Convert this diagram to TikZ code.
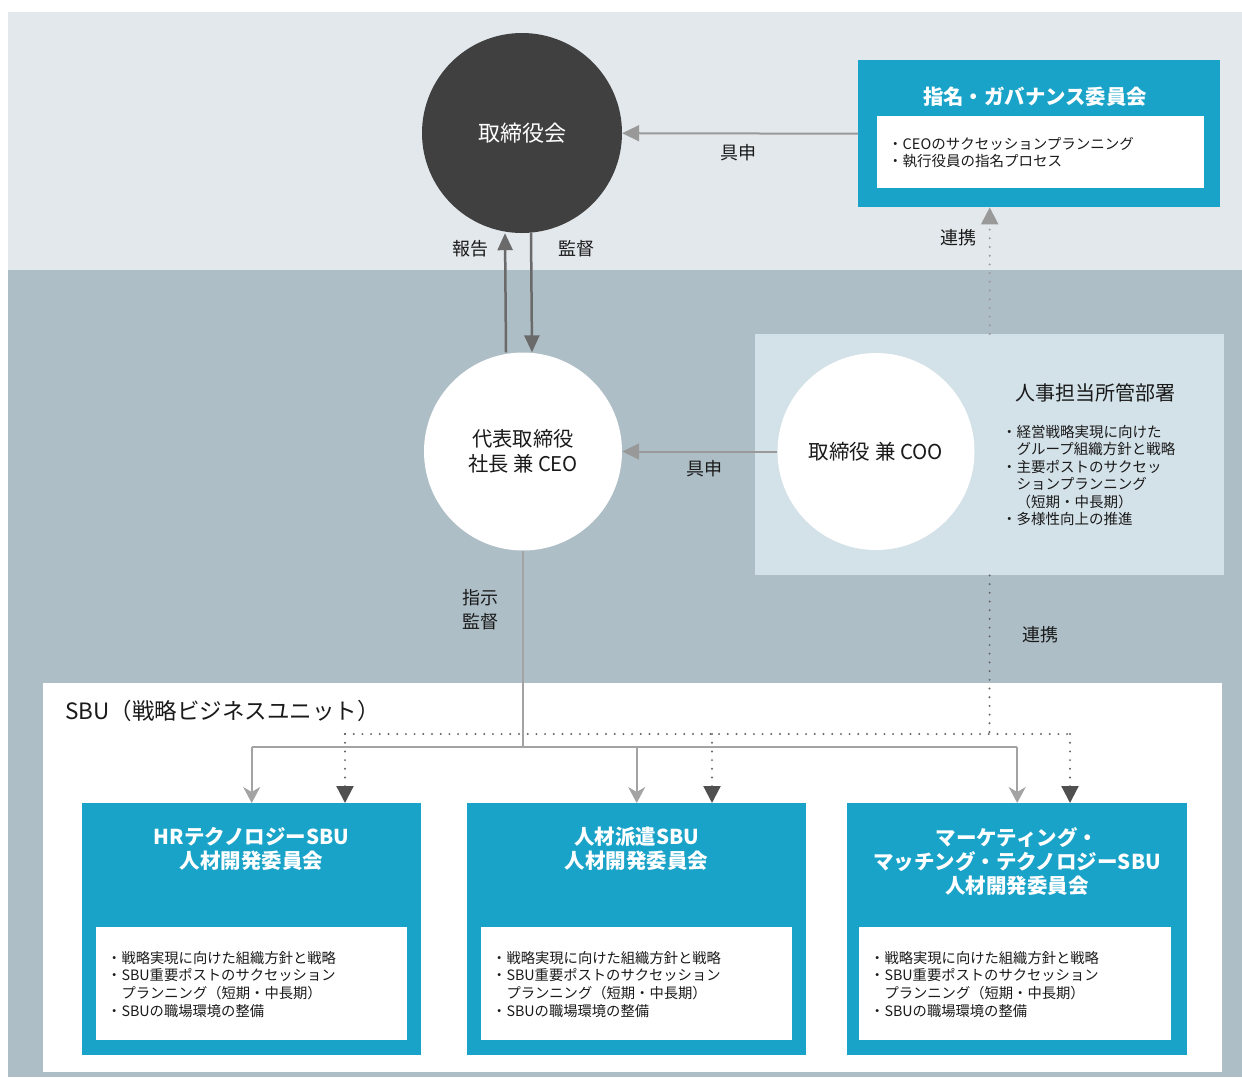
\documentclass[tikz,border=0pt]{standalone}
\usepackage{fontspec}
\setmainfont{Noto Sans CJK JP}
\usetikzlibrary{arrows.meta}
\definecolor{topbg}{HTML}{E2E8EB}
\definecolor{midbg}{HTML}{AEBEC6}
\definecolor{coobg}{HTML}{D3E1E8}
\definecolor{tealbox}{HTML}{1AA3C8}
\definecolor{darkcirc}{HTML}{404040}
\definecolor{arrgray}{HTML}{999999}
\definecolor{darkarrow}{HTML}{6A6A6A}
\definecolor{lightarrow}{HTML}{A3A3A3}
\definecolor{dotgray}{HTML}{666666}
\definecolor{tipdark}{HTML}{505050}
\definecolor{txt}{HTML}{1A1A1A}
\newcommand\fsz[2]{\fontsize{#1}{#2}\selectfont}
\begin{document}
\begin{tikzpicture}[x=1pt,y=-1pt,
  lbl/.style={text=txt, font=\fsz{18}{22}, inner sep=0pt},
  listtxt/.style={text=txt, font=\fsz{14.5}{17.5}, align=left, anchor=north west, inner sep=0pt},
  sbulist/.style={listtxt, font=\fsz{14.3}{17.7}},
  tbox/.style={rectangle, fill=tealbox, inner sep=0pt, anchor=north west},
  wbox/.style={rectangle, fill=white, inner sep=0pt, anchor=north west},
  title/.style={text=white, font=\bfseries\fsz{20.5}{24}, align=center, inner sep=0pt, anchor=north},
  hArrow/.style={draw=arrgray, line width=2pt, -{Triangle[length=17pt,width=16pt]}},
  vArrow/.style={draw=darkarrow, line width=2.5pt, -{Triangle[length=17pt,width=15pt]}},
  dropArrow/.style={draw=lightarrow, line width=2pt, -{Stealth[length=16pt,width=17pt,inset=5pt]}},
  solidLine/.style={draw=lightarrow, line width=2pt},
  dotLine/.style={draw=dotgray, line width=2.2pt, line cap=round, dash pattern=on 0pt off 8.7pt},
  dotDrop/.style={dotLine, -{Triangle[length=17pt,width=17pt,color=tipdark]}},
  dotUp/.style={draw=arrgray, line width=2.2pt, line cap=round, dash pattern=on 0pt off 8.7pt, -{Triangle[length=17pt,width=17pt,color=arrgray]}}
]
\useasboundingbox (0,0) rectangle (1242,1077);
\fill[white] (0,0) rectangle (1242,1077);
\fill[topbg] (8,12) rectangle (1242,270);
\fill[midbg] (8,270) rectangle (1242,1077);
\fill[white] (43,683) rectangle (1222,1072);

% COO panel
\node[rectangle, fill=coobg, inner sep=0pt, anchor=north west, minimum width=469pt, minimum height=241pt] (hr) at (755,334) {};

% circles
\node[circle, fill=darkcirc, minimum size=200pt, inner sep=0pt, text=white, font=\fsz{22}{26}] (board) at (522,133) {取締役会};
\node[circle, fill=white, minimum size=198pt, inner sep=0pt, text=txt, font=\fsz{20.3}{25}, align=center] (ceo) at (523,451.5) {代表取締役\\社長 兼 CEO};
\node[circle, fill=white, minimum size=197pt, inner sep=0pt, text=txt, font=\fsz{20.5}{25}] (coo) at (876,451.5) {取締役 兼 COO};

\node[text=txt, font=\fsz{20}{24}, inner sep=0pt] (hrtitle) at (1095,393) {人事担当所管部署};
\node[listtxt] (hrlist) at (1002,425) {・経営戦略実現に向けた\\\hspace*{1em}グループ組織方針と戦略\\・主要ポストのサクセッ\\\hspace*{1em}ションプランニング\\\hspace*{1em}（短期・中長期）\\・多様性向上の推進};

% nomination box
\node[tbox, minimum width=362pt, minimum height=147pt] (nom) at (858,60) {};
\node[wbox, minimum width=327pt, minimum height=72pt] (nomin) at (877,116) {};
\node[text=white, font=\bfseries\fsz{20.4}{24}, inner sep=0pt] (nomtitle) at (1035,97) {指名・ガバナンス委員会};
\node[listtxt] (nomlist) at (888,137) {・CEOのサクセッションプランニング\\・執行役員の指名プロセス};

% SBU
\node[text=txt, font=\fsz{22.5}{26}, inner sep=0pt, anchor=west] (sbulabel) at (65,711) {SBU（戦略ビジネスユニット）};

\node[tbox, minimum width=339pt, minimum height=252pt] (box1) at (82,803) {};
\node[tbox, minimum width=339pt, minimum height=252pt] (box2) at (467,803) {};
\node[tbox, minimum width=340pt, minimum height=252pt] (box3) at (847,803) {};
\node[wbox, minimum width=311pt, minimum height=113pt] (in1) at (96,927) {};
\node[wbox, minimum width=311pt, minimum height=113pt] (in2) at (481,927) {};
\node[wbox, minimum width=312pt, minimum height=113pt] (in3) at (859,927) {};

\node[title] (t1) at (251.5,827) {HRテクノロジーSBU\\人材開発委員会};
\node[title] (t2) at (636.5,827) {人材派遣SBU\\人材開発委員会};
\node[title] (t3) at (1017,827) {マーケティング・\\マッチング・テクノロジーSBU\\人材開発委員会};

\node[sbulist] (l1) at (107,951) {・戦略実現に向けた組織方針と戦略\\・SBU重要ポストのサクセッション\\\hspace*{1em}プランニング（短期・中長期）\\・SBUの職場環境の整備};
\node[sbulist] (l2) at (492,951) {・戦略実現に向けた組織方針と戦略\\・SBU重要ポストのサクセッション\\\hspace*{1em}プランニング（短期・中長期）\\・SBUの職場環境の整備};
\node[sbulist] (l3) at (870,951) {・戦略実現に向けた組織方針と戦略\\・SBU重要ポストのサクセッション\\\hspace*{1em}プランニング（短期・中長期）\\・SBUの職場環境の整備};

% labels
\node[lbl] (lb1) at (738,153) {具申};
\node[lbl] (lb2) at (470,249) {報告};
\node[lbl] (lb3) at (576,249) {監督};
\node[lbl] (lb4) at (958,238) {連携};
\node[lbl] (lb5) at (704,469) {具申};
\node[lbl, align=center, font=\fsz{18}{24}] (lb6) at (480,610) {指示\\監督};
\node[lbl] (lb7) at (1040,635) {連携};

% connectors
\draw[hArrow] (nom.west) -- (board);
\draw[hArrow] (coo) -- (ceo);
\draw[vArrow] ([xshift=-17pt]ceo.north) -- ([xshift=-17pt]board.south);
\draw[vArrow] ([xshift=9pt]board.south) -- ([xshift=9pt]ceo.north);
\draw[dotUp] (hr.north) -- (hr.north |- nom.south);

% solid bus
\coordinate (busS) at (523,747);
\draw[solidLine] (ceo.south) -- (busS);
\draw[solidLine] (box1.north |- busS) -- (box3.north |- busS);
\draw[dropArrow] (box1.north |- busS) -- (box1.north);
\draw[dropArrow] (box2.north |- busS) -- (box2.north);
\draw[dropArrow] (box3.north |- busS) -- (box3.north);

% dotted bus
\coordinate (busD) at (989.5,734);
\coordinate (d1) at (345,803);
\coordinate (d2) at (712,803);
\coordinate (d3) at (1070,803);
\draw[dotLine] (hr.south) -- (busD);
\draw[dotLine] (d1 |- busD) -- (d3 |- busD);
\draw[dotDrop] (d1 |- busD) -- (d1);
\draw[dotDrop] (d2 |- busD) -- (d2);
\draw[dotDrop] (d3 |- busD) -- (d3);
\end{tikzpicture}
\end{document}
